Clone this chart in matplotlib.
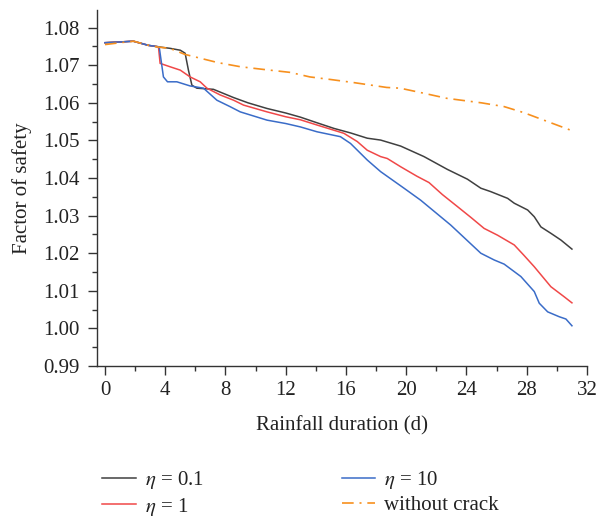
import matplotlib
matplotlib.use("Agg")
import matplotlib.pyplot as plt
from matplotlib.ticker import MultipleLocator, FormatStrFormatter

plt.rcParams['font.family'] = ['Liberation Serif', 'DejaVu Serif']
plt.rcParams['mathtext.fontset'] = 'stix'

# ---- data ----
x_k01 = [0, 1.0, 1.88, 2.88, 3.55, 4.32, 5.0, 5.32, 5.54, 5.77, 6.1, 7.2, 8.54, 9.5,
         10.76, 12.0, 12.97, 14.0, 15.2, 16.3, 17.41, 18.3, 19.63, 21.18, 22.73, 24.06,
         24.95, 25.6, 26.73, 27.17, 28.06, 28.5, 28.94, 29.6, 30.27, 31.0]
y_k01 = [1.0760, 1.0762, 1.0764, 1.0753, 1.0749, 1.0745, 1.0740, 1.0732, 1.0687, 1.0647,
         1.0639, 1.0636, 1.0614, 1.0600, 1.0585, 1.0573, 1.0562, 1.0548, 1.0532, 1.0520,
         1.0506, 1.0501, 1.0485, 1.0457, 1.0423, 1.0397, 1.0373, 1.0364, 1.0346, 1.0333,
         1.0315, 1.0297, 1.0270, 1.0253, 1.0235, 1.0211]

x_k1 = [0, 1.0, 1.88, 2.88, 3.55, 3.66, 4.32, 5.0, 5.65, 6.32, 6.77, 7.65, 8.54, 9.2,
        10.76, 12.0, 12.97, 14.08, 15.86, 16.75, 17.41, 18.3, 18.74, 19.63, 20.7, 21.51,
        22.4, 23.4, 24.3, 25.17, 26.06, 27.17, 27.8, 28.5, 29.6, 30.49, 31.0]
y_k1 = [1.0760, 1.0762, 1.0764, 1.0753, 1.0749, 1.0705, 1.0696, 1.0687, 1.0669, 1.0656,
        1.0639, 1.0621, 1.0607, 1.0594, 1.0576, 1.0563, 1.0555, 1.0541, 1.0519, 1.0497,
        1.0474, 1.0457, 1.0452, 1.0430, 1.0405, 1.0388, 1.0356, 1.0324, 1.0295, 1.0266,
        1.0248, 1.0222, 1.0195, 1.0164, 1.0111, 1.0084, 1.0068]

x_k10 = [0, 1.0, 1.88, 2.88, 3.6, 3.88, 4.15, 4.77, 5.65, 6.54, 7.43, 8.3, 8.98, 10.76,
         12.0, 12.97, 14.08, 15.63, 16.3, 17.41, 18.3, 19.85, 20.96, 22.95, 24.95, 25.84,
         26.5, 27.61, 28.5, 28.83, 29.39, 30.16, 30.6, 31.0]
y_k10 = [1.0760, 1.0762, 1.0764, 1.0753, 1.0749, 1.0669, 1.0656, 1.0656, 1.0645, 1.0639,
         1.0607, 1.0590, 1.0576, 1.0554, 1.0545, 1.0536, 1.0523, 1.0510, 1.0492, 1.0448,
         1.0417, 1.0373, 1.0341, 1.0275, 1.0200, 1.0182, 1.0171, 1.0138, 1.0098, 1.0067,
         1.0044, 1.0031, 1.0025, 1.0007]

x_nc = [0, 1.0, 1.9, 2.9, 3.6, 4.3, 5.3, 6.3, 7.5, 9.0, 10.5, 12.3, 13.6, 15.0, 16.5,
        18.7, 19.6, 21.0, 22.7, 25.0, 26.5, 27.8, 29.6, 31.0]
y_nc = [1.0755, 1.0760, 1.0764, 1.0753, 1.0748, 1.0745, 1.0729, 1.0719, 1.0707, 1.0696,
        1.0689, 1.0681, 1.0669, 1.0662, 1.0654, 1.0641, 1.0639, 1.0627, 1.0612, 1.0600,
        1.0590, 1.0574, 1.0547, 1.0526]

labels = [r'$\eta$ = 0.1', r'$\eta$ = 1', r'$\eta$ = 10', 'without crack']
xlabel = 'Rainfall duration (d)'
ylabel = 'Factor of safety'

# ---- figure ----
W, H = 597, 518
fig = plt.figure(figsize=(W / 100, H / 100), dpi=100)
ax = fig.add_axes([97 / W, 1 - 366 / H, (587 - 97) / W, (366 - 10) / H])

h1, = ax.plot(x_k01, y_k01, color='#404040', lw=1.1)
h2, = ax.plot(x_k1, y_k1, color='#f04848', lw=1.1)
h3, = ax.plot(x_k10, y_k10, color='#3a6cc8', lw=1.1)
h4, = ax.plot(x_nc, y_nc, color='#f7901e', lw=1.2)
h4.set_dashes((7, 3.5, 1.2, 3.5))

ax.set_xlim(-0.53, 32)
ax.set_ylim(0.99, 1.0847)
ax.xaxis.set_major_locator(MultipleLocator(4))
ax.xaxis.set_minor_locator(MultipleLocator(2))
ax.yaxis.set_major_locator(MultipleLocator(0.01))
ax.yaxis.set_minor_locator(MultipleLocator(0.005))
ax.yaxis.set_major_formatter(FormatStrFormatter('%.2f'))

for s in ['top', 'right']:
    ax.spines[s].set_visible(False)
for s in ['left', 'bottom']:
    ax.spines[s].set_color('#333333')
    ax.spines[s].set_linewidth(1.0)

ax.tick_params(which='major', length=6.5, width=1.0, color='#333333',
               labelsize=15, labelcolor='#222222')
ax.tick_params(which='minor', length=3.5, width=1.0, color='#333333')
ax.tick_params(axis='y', which='major', pad=6)
ax.tick_params(axis='x', which='major', pad=4)

ax.set_xlabel(xlabel, fontsize=15, color='#222222', labelpad=12)
ax.set_ylabel(ylabel, fontsize=15, color='#222222', labelpad=8)

fig.legend([h1, h2, h3, h4], labels, ncol=2, loc='upper left',
           bbox_to_anchor=(92 / W, 1 - 459 / H), frameon=False, fontsize=15,
           handlelength=1.6, handletextpad=0.45, columnspacing=6.6,
           labelspacing=0.2, borderpad=0, labelcolor='#222222')

fig.savefig('out.png', dpi=100)
